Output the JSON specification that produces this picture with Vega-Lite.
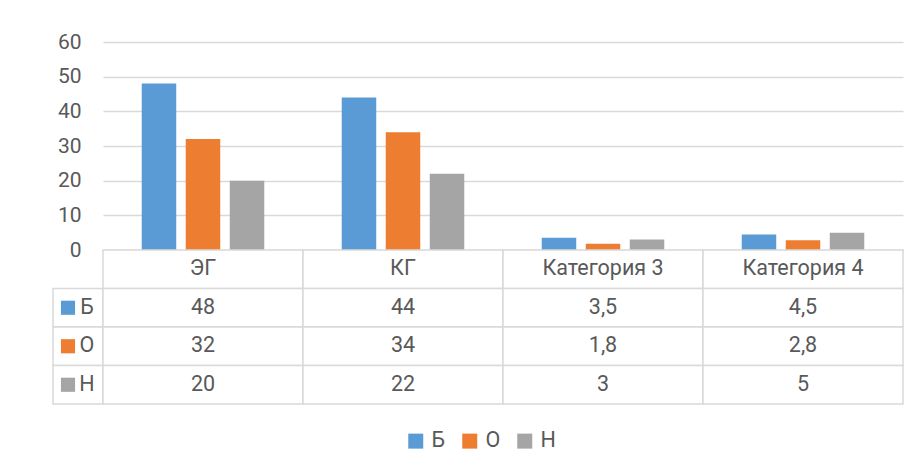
{
  "$schema": "https://vega.github.io/schema/vega-lite/v6.json",
  "padding": {"left": 52, "top": 31, "right": 0, "bottom": 0},
  "background": "white",
  "config": {
    "font": "Roboto",
    "view": {"stroke": null},
    "locale": {"number": {"decimal": ",", "thousands": " ", "grouping": [3], "currency": ["", " ₽"]}},
    "text": {"font": "Roboto", "fontSize": 21.5, "fill": "#595959"}
  },
  "datasets": {
    "vals": [
      {"cat": "ЭГ", "series": "Б", "value": 48},
      {"cat": "ЭГ", "series": "О", "value": 32},
      {"cat": "ЭГ", "series": "Н", "value": 20},
      {"cat": "КГ", "series": "Б", "value": 44},
      {"cat": "КГ", "series": "О", "value": 34},
      {"cat": "КГ", "series": "Н", "value": 22},
      {"cat": "Категория 3", "series": "Б", "value": 3.5},
      {"cat": "Категория 3", "series": "О", "value": 1.8},
      {"cat": "Категория 3", "series": "Н", "value": 3},
      {"cat": "Категория 4", "series": "Б", "value": 4.5},
      {"cat": "Категория 4", "series": "О", "value": 2.8},
      {"cat": "Категория 4", "series": "Н", "value": 5}
    ]
  },
  "columns": 2,
  "spacing": 0,
  "bounds": "flush",
  "concat": [
    {
      "width": 50,
      "height": 208,
      "data": {"values": []},
      "mark": "point",
      "encoding": {}
    },
    {
      "width": 800,
      "height": 208,
      "data": {"name": "vals"},
      "mark": {"type": "bar"},
      "encoding": {
        "x": {
          "field": "cat", "type": "nominal", "sort": null,
          "scale": {"paddingInner": 0, "paddingOuter": 0},
          "axis": null
        },
        "xOffset": {
          "field": "series", "type": "nominal",
          "scale": {"domain": ["Б", "О", "Н"], "paddingInner": 0.216, "paddingOuter": 0.88}
        },
        "y": {
          "field": "value", "type": "quantitative",
          "scale": {"domain": [0, 60], "nice": false},
          "axis": {
            "title": null,
            "values": [0, 10, 20, 30, 40, 50, 60],
            "domain": false,
            "ticks": false,
            "labelPadding": 22,
            "labelFontSize": 21,
            "labelColor": "#595959",
            "labelFont": "Roboto",
            "gridColor": "#d9d9d9",
            "gridWidth": 1.5
          }
        },
        "color": {
          "field": "series", "type": "nominal",
          "scale": {"domain": ["Б", "О", "Н"], "range": ["#5B9BD5", "#ED7D31", "#A5A5A5"]},
          "legend": {
            "title": null,
            "orient": "none",
            "legendX": 352,
            "legendY": 388,
            "direction": "horizontal",
            "symbolType": "square",
            "symbolSize": 225,
            "symbolStrokeWidth": 0,
            "labelFontSize": 21.5,
            "labelFont": "Roboto",
            "labelColor": "#595959",
            "labelOffset": 5,
            "columnPadding": 13
          }
        }
      }
    },
    {
      "width": 50,
      "height": 154,
      "data": {"name": "vals"},
      "transform": [{"filter": "datum.cat === 'ЭГ'"}],
      "encoding": {
        "y": {
          "field": "series", "type": "nominal",
          "scale": {"domain": ["hdr", "Б", "О", "Н"], "paddingInner": 0, "paddingOuter": 0},
          "axis": null
        }
      },
      "layer": [
        {"mark": {"type": "rect", "fill": "white", "stroke": "#d9d9d9", "strokeWidth": 1.5}},
        {
          "mark": {"type": "point", "shape": "square", "filled": true, "size": 200, "opacity": 1, "xOffset": -10, "strokeWidth": 0},
          "encoding": {"color": {"field": "series", "type": "nominal"}}
        },
        {
          "mark": {"type": "text", "dx": 9},
          "encoding": {"text": {"field": "series"}}
        }
      ]
    },
    {
      "width": 800,
      "height": 154,
      "data": {"name": "vals"},
      "encoding": {
        "x": {
          "field": "cat", "type": "nominal", "sort": null,
          "scale": {"paddingInner": 0, "paddingOuter": 0},
          "axis": null
        }
      },
      "layer": [
        {
          "transform": [{"filter": "datum.series === 'Б'"}],
          "encoding": {
            "y": {
              "datum": "hdr", "type": "nominal",
              "scale": {"domain": ["hdr", "Б", "О", "Н"], "paddingInner": 0, "paddingOuter": 0},
              "axis": null
            }
          },
          "layer": [
            {"mark": {"type": "rect", "fill": "white", "stroke": "#d9d9d9", "strokeWidth": 1.5}},
            {"mark": {"type": "text"}, "encoding": {"text": {"field": "cat"}}}
          ]
        },
        {
          "encoding": {
            "y": {"field": "series", "type": "nominal", "axis": null}
          },
          "layer": [
            {"mark": {"type": "rect", "fill": "white", "stroke": "#d9d9d9", "strokeWidth": 1.5}},
            {"mark": {"type": "text"}, "encoding": {"text": {"field": "value", "type": "quantitative", "format": "~g"}}}
          ]
        }
      ]
    }
  ]
}
